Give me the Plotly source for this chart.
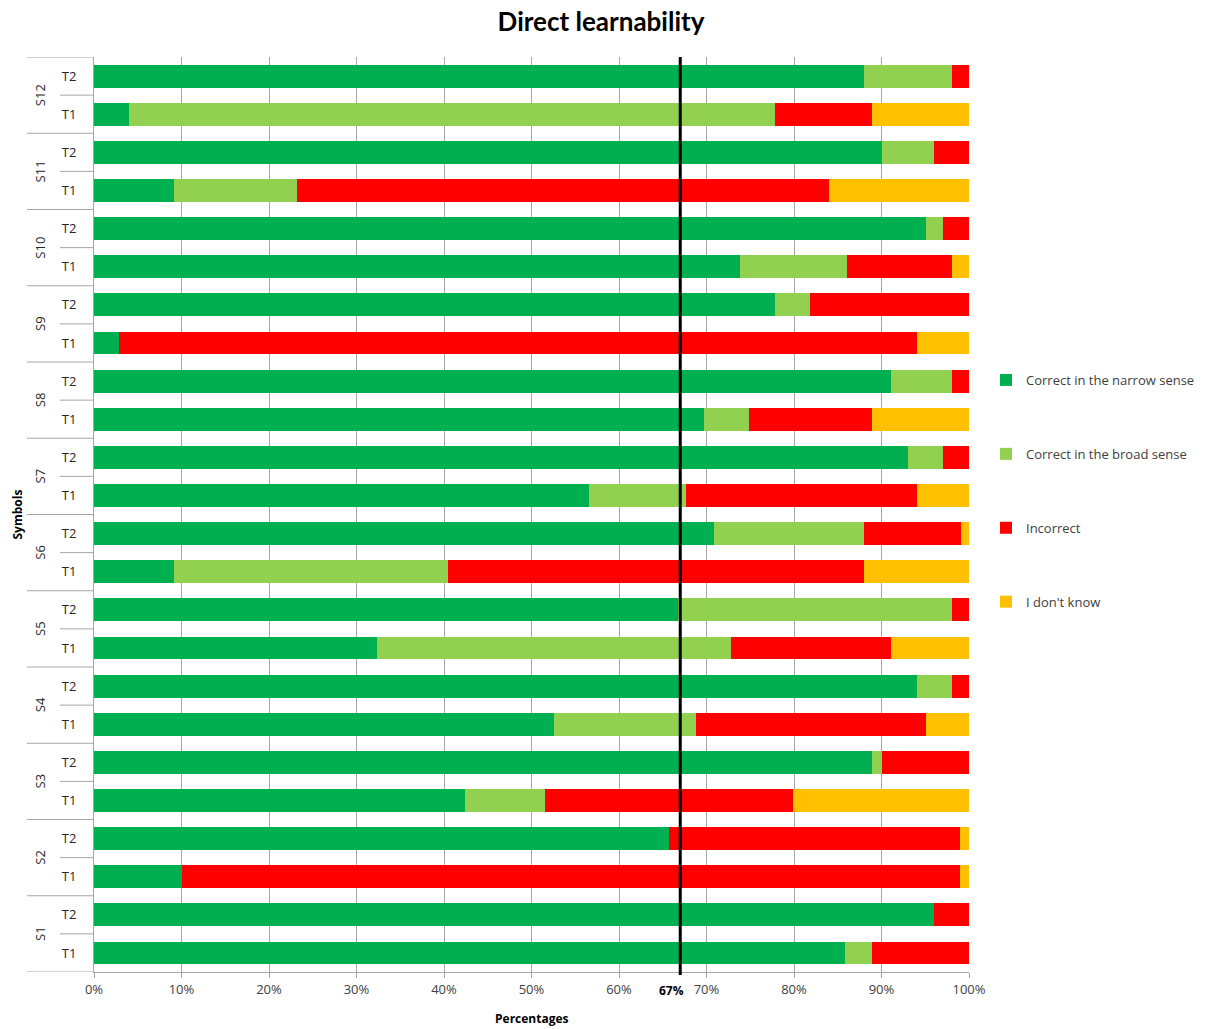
import plotly.graph_objects as go

# Symbols and test rounds (rows are drawn bottom to top: S1 T1, S1 T2, ..., S12 T2)
symbols = ["S1", "S2", "S3", "S4", "S5", "S6", "S7", "S8", "S9", "S10", "S11", "S12"]
tests = ["T1", "T2"]

# Share of answers (%) per row, in the same bottom-to-top order
correct_narrow = [85.8, 96.0, 10.0, 65.7, 42.4, 88.9, 52.6, 94.0, 32.3, 66.7, 9.1, 70.8,
                  56.6, 93.0, 69.7, 91.1, 2.9, 77.8, 73.8, 95.1, 9.1, 90.0, 4.0, 88.0]
correct_broad = [3.1, 0.0, 0.0, 0.0, 9.1, 1.1, 16.2, 4.1, 40.5, 31.4, 31.3, 17.2,
                 11.1, 4.0, 5.1, 7.0, 0.0, 4.0, 12.2, 1.9, 14.1, 6.0, 73.8, 10.1]
incorrect = [11.1, 4.0, 89.0, 33.3, 28.4, 10.0, 26.3, 1.9, 18.3, 1.9, 47.6, 11.1,
             26.3, 3.0, 14.1, 1.9, 91.1, 18.2, 12.1, 3.0, 60.8, 4.0, 11.1, 1.9]
dont_know = [0.0, 0.0, 1.0, 1.0, 20.1, 0.0, 4.9, 0.0, 8.9, 0.0, 12.0, 0.9,
             6.0, 0.0, 11.1, 0.0, 6.0, 0.0, 1.9, 0.0, 16.0, 0.0, 11.1, 0.0]

series_names = ["Correct in the narrow sense", "Correct in the broad sense", "Incorrect", "I don't know"]
series_colors = ["#00B050", "#92D050", "#FF0000", "#FFC000"]

threshold = 67  # target share, in %

rows = [f"{s} {t}" for s in symbols for t in tests]
row_tests = [t for s in symbols for t in tests]

GRAY = "#A6A6A6"
FONT = "Open Sans"

fig = go.Figure()
for name, color, values in zip(series_names, series_colors,
                               [correct_narrow, correct_broad, incorrect, dont_know]):
    fig.add_trace(go.Bar(
        y=rows, x=values, name=name, orientation="h",
        marker=dict(color=color, line=dict(width=0)),
        legendgroup=name,
    ))

W, H = 1208, 1029
L, R, T, B = 94, 239, 57, 57
plot_w = W - L - R
plot_h = H - T - B

shapes = []
# dividers between symbol groups (long) and between test rounds (short)
for k in range(len(symbols) + 1):
    shapes.append(dict(type="line", xref="paper", yref="y",
                       x0=-67 / plot_w, x1=0, y0=2 * k - 0.5, y1=2 * k - 0.5,
                       line=dict(color=GRAY, width=1)))
for k in range(len(symbols)):
    shapes.append(dict(type="line", xref="paper", yref="y",
                       x0=-34 / plot_w, x1=0, y0=2 * k + 0.5, y1=2 * k + 0.5,
                       line=dict(color=GRAY, width=1)))
# threshold line
shapes.append(dict(type="line", xref="x", yref="paper",
                   x0=threshold, x1=threshold, y0=-3 / plot_h, y1=1,
                   line=dict(color="black", width=3), layer="above"))

annotations = []
for k, s in enumerate(symbols):
    annotations.append(dict(text=s, xref="paper", yref="y", x=(40 - L) / plot_w, y=2 * k + 0.5,
                            textangle=-90, showarrow=False, xanchor="center", yanchor="middle",
                            font=dict(family=FONT, size=13, color="#262626")))
annotations.append(dict(text=f"<b>{threshold}%</b>", xref="x", yref="paper", x=threshold,
                        y=-(990 - (T + plot_h)) / plot_h, xshift=-9, showarrow=False,
                        xanchor="center", yanchor="middle",
                        font=dict(family=FONT, size=12, color="black")))
annotations.append(dict(text="<b>Symbols</b>", xref="paper", yref="paper", x=(17 - L) / plot_w, y=0.5,
                        textangle=-90, showarrow=False, xanchor="center", yanchor="middle",
                        font=dict(family=FONT, size=12, color="black")))
annotations.append(dict(text="<b>Percentages</b>", xref="paper", yref="paper", x=0.5,
                        y=-(1018 - (T + plot_h)) / plot_h, showarrow=False,
                        xanchor="center", yanchor="middle",
                        font=dict(family=FONT, size=12, color="black")))

fig.update_layout(
    width=W, height=H,
    margin=dict(l=L, r=R, t=T, b=B, autoexpand=False),
    paper_bgcolor="white", plot_bgcolor="white",
    barmode="stack", bargap=0.4,
    title=dict(text="<b>Direct learnability</b>", x=601 / W, xanchor="center", xref="container",
               y=1 - 22 / H, yanchor="middle", yref="container",
               font=dict(family="Lato", size=26, color="black")),
    xaxis=dict(range=[0, 100], dtick=10, ticksuffix="%", showgrid=True, gridcolor=GRAY,
               gridwidth=1, zeroline=False, showline=True, linecolor=GRAY, linewidth=1,
               ticks="outside", ticklen=5, tickcolor=GRAY,
               tickfont=dict(family=FONT, size=13, color="#404040")),
    yaxis=dict(type="category", categoryorder="array", categoryarray=rows,
               tickmode="array", tickvals=rows, ticktext=row_tests,
               range=[-0.5, len(rows) - 0.5],
               showgrid=False, zeroline=False, showline=True, linecolor=GRAY, linewidth=1,
               ticks="outside", ticklen=14, tickcolor="rgba(0,0,0,0)",
               tickfont=dict(family=FONT, size=13, color="#262626")),
    legend=dict(x=(986 - L) / plot_w, xanchor="left", y=(T + plot_h - 365) / plot_h, yanchor="top",
                traceorder="grouped", tracegroupgap=54,
                font=dict(family=FONT, size=13, color="#404040"),
                bgcolor="rgba(0,0,0,0)"),
    shapes=shapes,
    annotations=annotations,
    font=dict(family=FONT),
)

fig.write_html("out.html")
